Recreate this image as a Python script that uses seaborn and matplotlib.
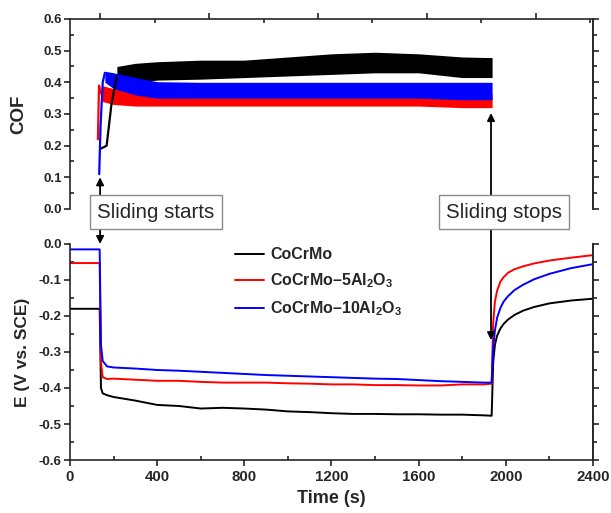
import numpy as np
import pandas as pd
import seaborn as sns
import matplotlib.pyplot as plt
from matplotlib.ticker import MultipleLocator, FixedLocator
from matplotlib.patches import ConnectionPatch

# ---- COF (top panel) ----
# start-up ramps (time s, COF)
ramp_t_cocrmo = [140, 168, 190, 215]
ramp_v_cocrmo = [0.19, 0.20, 0.33, 0.42]
ramp_t_5al = [128, 133, 140, 146]
ramp_v_5al = [0.22, 0.39, 0.37, 0.36]
ramp_t_10al = [134, 140, 150, 160]
ramp_v_10al = [0.11, 0.26, 0.40, 0.43]

# oscillation envelopes during sliding
band_t_cocrmo = [215, 300, 400, 600, 800, 1000, 1200, 1400, 1600, 1800, 1937]
band_lo_cocrmo = [0.40, 0.40, 0.407, 0.41, 0.415, 0.42, 0.425, 0.43, 0.43, 0.415, 0.415]
band_hi_cocrmo = [0.45, 0.46, 0.465, 0.47, 0.47, 0.48, 0.49, 0.495, 0.49, 0.48, 0.478]

band_t_5al = [146, 200, 300, 400, 600, 800, 1000, 1200, 1400, 1600, 1800, 1937]
band_lo_5al = [0.34, 0.33, 0.325, 0.325, 0.325, 0.325, 0.325, 0.325, 0.325, 0.325, 0.32, 0.32]
band_hi_5al = [0.39, 0.38, 0.37, 0.365, 0.365, 0.365, 0.365, 0.365, 0.365, 0.365, 0.365, 0.365]

band_t_10al = [160, 200, 300, 400, 600, 800, 1000, 1200, 1400, 1600, 1800, 1937]
band_lo_10al = [0.40, 0.38, 0.36, 0.35, 0.35, 0.35, 0.35, 0.35, 0.35, 0.35, 0.345, 0.345]
band_hi_10al = [0.435, 0.43, 0.415, 0.402, 0.40, 0.40, 0.40, 0.40, 0.40, 0.40, 0.40, 0.40]

# ---- OCP (bottom panel) ----
t_e = [0, 136, 142, 150, 170, 200, 300, 400, 500, 600, 700, 800, 900, 1000,
       1100, 1200, 1300, 1400, 1500, 1600, 1700, 1800, 1900, 1935, 1942, 1950,
       1960, 1975, 1990, 2010, 2040, 2080, 2130, 2200, 2300, 2400]
e_cocrmo = [-0.18, -0.18, -0.40, -0.415, -0.42, -0.425, -0.435, -0.447, -0.45, -0.457,
            -0.455, -0.457, -0.46, -0.465, -0.467, -0.47, -0.472, -0.472, -0.473, -0.473,
            -0.474, -0.474, -0.476, -0.477, -0.33, -0.28, -0.255, -0.235, -0.222, -0.21,
            -0.197, -0.185, -0.175, -0.165, -0.157, -0.152]
e_5al = [-0.053, -0.053, -0.33, -0.37, -0.375, -0.374, -0.377, -0.38, -0.38, -0.383,
         -0.385, -0.385, -0.385, -0.387, -0.388, -0.39, -0.39, -0.392, -0.392, -0.393,
         -0.393, -0.39, -0.39, -0.388, -0.22, -0.16, -0.13, -0.105, -0.092, -0.08,
         -0.07, -0.062, -0.054, -0.046, -0.038, -0.031]
e_10al = [-0.015, -0.015, -0.28, -0.325, -0.34, -0.343, -0.346, -0.35, -0.352, -0.355,
          -0.358, -0.361, -0.364, -0.366, -0.368, -0.37, -0.372, -0.374, -0.375, -0.378,
          -0.381, -0.383, -0.385, -0.385, -0.29, -0.24, -0.205, -0.178, -0.16, -0.145,
          -0.128, -0.113, -0.098, -0.083, -0.067, -0.056]

labels = ['CoCrMo', 'CoCrMo\u20135Al$_2$O$_3$', 'CoCrMo\u201310Al$_2$O$_3$']
colors = ['#000000', '#ff0000', '#0000ff']

sns.set_style('ticks')
plt.rcParams['font.family'] = ['Liberation Sans', 'DejaVu Sans']
plt.rcParams['font.weight'] = 'bold'
plt.rcParams['mathtext.fontset'] = 'custom'
plt.rcParams['mathtext.rm'] = 'Liberation Sans:bold'
plt.rcParams['mathtext.bf'] = 'Liberation Sans:bold'
plt.rcParams['mathtext.default'] = 'bf'
plt.rcParams['axes.linewidth'] = 1.2

fig = plt.figure(figsize=(6.11, 5.13), dpi=100)
ax1 = fig.add_axes([0.1146, 0.5926, 0.8559, 0.3704])
ax2 = fig.add_axes([0.1146, 0.1033, 0.8559, 0.4211])

# top panel: COF
ramps = [(ramp_t_cocrmo, ramp_v_cocrmo), (ramp_t_5al, ramp_v_5al), (ramp_t_10al, ramp_v_10al)]
bands = [(band_t_cocrmo, band_lo_cocrmo, band_hi_cocrmo),
         (band_t_5al, band_lo_5al, band_hi_5al),
         (band_t_10al, band_lo_10al, band_hi_10al)]
for (rt, rv), (bt, lo, hi), c in zip(ramps, bands, colors):
    sns.lineplot(x=rt, y=rv, color=c, lw=1.6, ax=ax1, sort=False, estimator=None)
    ax1.fill_between(bt, lo, hi, color=c, lw=0)

ax1.set_xlim(0, 2400)
ax1.set_ylim(0, 0.6)
ax1.spines['bottom'].set_visible(False)
ax1.xaxis.tick_top()
ax1.xaxis.set_major_locator(FixedLocator([138, 638, 1138, 1638, 2138]))
ax1.xaxis.set_minor_locator(FixedLocator([388, 888, 1388, 1888, 2388]))
ax1.tick_params(axis='x', which='major', direction='out', length=4, width=1.2, labeltop=False)
ax1.tick_params(axis='x', which='minor', direction='in', length=3, width=1.2)
ax1.yaxis.set_major_locator(MultipleLocator(0.1))
ax1.yaxis.set_minor_locator(MultipleLocator(0.05))
ax1.yaxis.set_major_formatter(lambda v, p: f'{v:.1f}')
ax1.tick_params(axis='y', which='major', direction='out', length=4, width=1.2, labelsize=9.5, pad=2)
ax1.tick_params(axis='y', which='minor', direction='in', length=3, width=1.2)
ax1.set_ylabel('COF', fontsize=13.5, fontweight='bold')
ax1.yaxis.set_label_coords(-0.082, 0.5)
ax1.set_xlabel('')

# bottom panel: E vs time
df = pd.DataFrame({
    'Time (s)': t_e * 3,
    'E': e_cocrmo + e_5al + e_10al,
    'alloy': [labels[0]] * len(t_e) + [labels[1]] * len(t_e) + [labels[2]] * len(t_e),
})
sns.lineplot(data=df, x='Time (s)', y='E', hue='alloy', palette=colors, lw=1.4,
             sort=False, estimator=None, ax=ax2)

ax2.set_xlim(0, 2400)
ax2.set_ylim(-0.6, 0.0)
ax2.spines['top'].set_visible(False)
ax2.xaxis.set_major_locator(MultipleLocator(400))
ax2.xaxis.set_minor_locator(MultipleLocator(200))
ax2.yaxis.set_major_locator(MultipleLocator(0.1))
ax2.yaxis.set_minor_locator(MultipleLocator(0.05))
ax2.yaxis.set_major_formatter(lambda v, p: f'{v:.1f}'.replace('-0.0', '0.0'))
ax2.tick_params(axis='x', which='major', direction='out', length=4, width=1.2, labelsize=10.8, pad=3)
ax2.tick_params(axis='x', which='minor', direction='in', length=3, width=1.2)
ax2.tick_params(axis='y', which='major', direction='out', length=4, width=1.2, labelsize=9.5, pad=2)
ax2.tick_params(axis='y', which='minor', direction='in', length=3, width=1.2)
ax2.set_ylabel('E (V vs. SCE)', fontsize=12.5, fontweight='bold')
ax2.yaxis.set_label_coords(-0.076, 0.5)
ax2.set_xlabel('Time (s)', fontsize=13, fontweight='bold')
ax2.xaxis.set_label_coords(0.5, -0.14)

# right-side outward ticks for both panels
for ax in (ax1, ax2):
    sec = ax.secondary_yaxis('right')
    sec.yaxis.set_major_locator(MultipleLocator(0.1))
    sec.yaxis.set_minor_locator(MultipleLocator(0.05))
    sec.tick_params(which='major', direction='out', length=4, width=1.2, labelright=False)
    sec.tick_params(which='minor', direction='out', length=3, width=1.2)
    sec.spines['right'].set_linewidth(1.2)

ax2.legend(frameon=False, loc='upper left', bbox_to_anchor=(0.316, 0.985),
           borderaxespad=0, borderpad=0, handlelength=1.8, handletextpad=0.4,
           labelspacing=0.58, prop={'size': 11.5, 'weight': 'bold'})

# sliding start / stop arrows with labels
for t0, ytop, ybot, txt, xc in [(138, 0.10, 0.0, 'Sliding starts', 0.2553),
                                 (1932, 0.303, -0.267, 'Sliding stops', 0.8249)]:
    con = ConnectionPatch(xyA=(t0, ytop), coordsA=ax1.transData,
                          xyB=(t0, ybot), coordsB=ax2.transData,
                          arrowstyle='<|-|>', mutation_scale=11, lw=1.3, color='black',
                          shrinkA=0, shrinkB=0)
    con.set_zorder(5)
    fig.add_artist(con)
    fig.text(xc, 0.5867, txt, fontsize=14.8, fontweight='normal', ha='center', va='center',
             zorder=10, bbox=dict(boxstyle='square,pad=0.35', fc='white', ec='#8a8a8a', lw=1))

fig.savefig('out.png', dpi=100)
